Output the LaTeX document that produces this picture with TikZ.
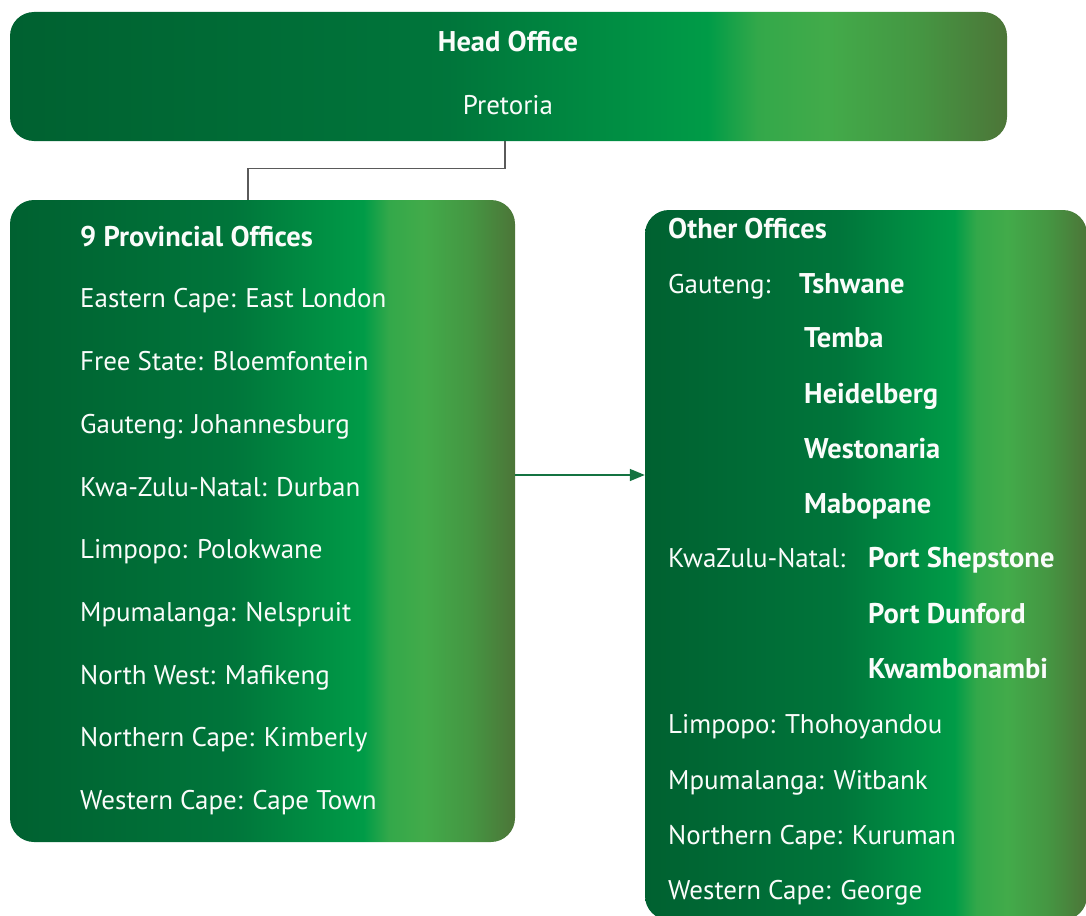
\documentclass[tikz,border=0pt]{standalone}
\usepackage{fontspec}
\setmainfont{PT Sans}
\usetikzlibrary{arrows.meta,positioning,calc}
\definecolor{wt}{RGB}{250,252,250}
\definecolor{ln}{RGB}{90,90,90}
\definecolor{ar}{RGB}{20,115,65}
% green band used by all three boxes
\pgfdeclarehorizontalshading{officegreen}{100bp}{%
  rgb(0bp)=(0,0.38,0.19); rgb(25bp)=(0,0.38,0.19);
  rgb(47bp)=(0,0.46,0.23); rgb(60bp)=(0,0.61,0.28);
  rgb(62.5bp)=(0.2,0.66,0.29); rgb(66bp)=(0.26,0.67,0.29);
  rgb(70.5bp)=(0.27,0.59,0.26); rgb(75bp)=(0.3,0.46,0.22);
  rgb(100bp)=(0.3,0.46,0.22)}

\begin{document}
\begin{tikzpicture}[x=1pt,y=-1pt,
  box/.style={shading=officegreen,rounded corners=24pt,inner sep=0pt},
  txt/.style={text=wt,inner sep=0pt,anchor=base west,font=\fontsize{27}{32}\selectfont},
  bold/.style={txt,font=\fontsize{28.5}{33}\selectfont\bfseries},
  link/.style={draw=ln,line width=1.2pt},
  arr/.style={draw=ar,line width=1.5pt,-{Triangle[length=15pt,width=12pt]}}]
  \useasboundingbox (0,0) rectangle (1086,915);

  % boxes
  \node[box,minimum width=997pt,minimum height=129pt] (head) at (508.5,76.5) {};
  \node[box,minimum width=505pt,minimum height=642pt] (prov) at (262.5,521) {};
  \node[box,minimum width=442pt,minimum height=710pt] (other) at (866,565) {};

  % head office
  \node[bold,anchor=base] (hdtitle) at (508,52) {Head Office};
  \node[txt,anchor=base] (hdcity) at (508,114) {Pretoria};

  % provincial offices
  \node[bold] (pv0) at (80,246) {9 Provincial Offices};
  \node[txt] (pv1) at (80,307) {Eastern Cape: East London};
  \node[txt] (pv2) at (80,370) {Free State: Bloemfontein};
  \node[txt] (pv3) at (80,433) {Gauteng: Johannesburg};
  \node[txt] (pv4) at (80,496) {Kwa-Zulu-Natal: Durban};
  \node[txt] (pv5) at (80,558) {Limpopo: Polokwane};
  \node[txt] (pv6) at (80,621) {Mpumalanga: Nelspruit};
  \node[txt] (pv7) at (80,684) {North West: Mafikeng};
  \node[txt] (pv8) at (80,746) {Northern Cape: Kimberly};
  \node[txt] (pv9) at (80,809) {Western Cape: Cape Town};

  % other offices
  \node[bold] (ot0) at (668,238) {Other Offices};
  \node[txt] (gt) at (668,293) {Gauteng:};
  \node[bold] (gt1) at (799,293) {Tshwane};
  \node[bold] (gt2) at (804,347) {Temba};
  \node[bold] (gt3) at (804,403) {Heidelberg};
  \node[bold] (gt4) at (804,458) {Westonaria};
  \node[bold] (gt5) at (804,513) {Mabopane};
  \node[txt] (kz) at (668,567) {KwaZulu-Natal:};
  \node[bold] (kz1) at (868,567) {Port Shepstone};
  \node[bold] (kz2) at (868,623) {Port Dunford};
  \node[bold] (kz3) at (868,678) {Kwambonambi};
  \node[txt] (ot1) at (668,733) {Limpopo: Thohoyandou};
  \node[txt] (ot2) at (668,789) {Mpumalanga: Witbank};
  \node[txt] (ot3) at (668,844) {Northern Cape: Kuruman};
  \node[txt] (ot4) at (668,899) {Western Cape: George};

  % connectors
  \draw[link] ([xshift=-3.5pt]head.south) -- ++(0,27) -| ([xshift=-14.5pt]prov.north);
  \coordinate (arrstart) at ([yshift=46pt]prov.east);
  \draw[arr] (arrstart) -- (arrstart -| other.west);
\end{tikzpicture}
\end{document}
